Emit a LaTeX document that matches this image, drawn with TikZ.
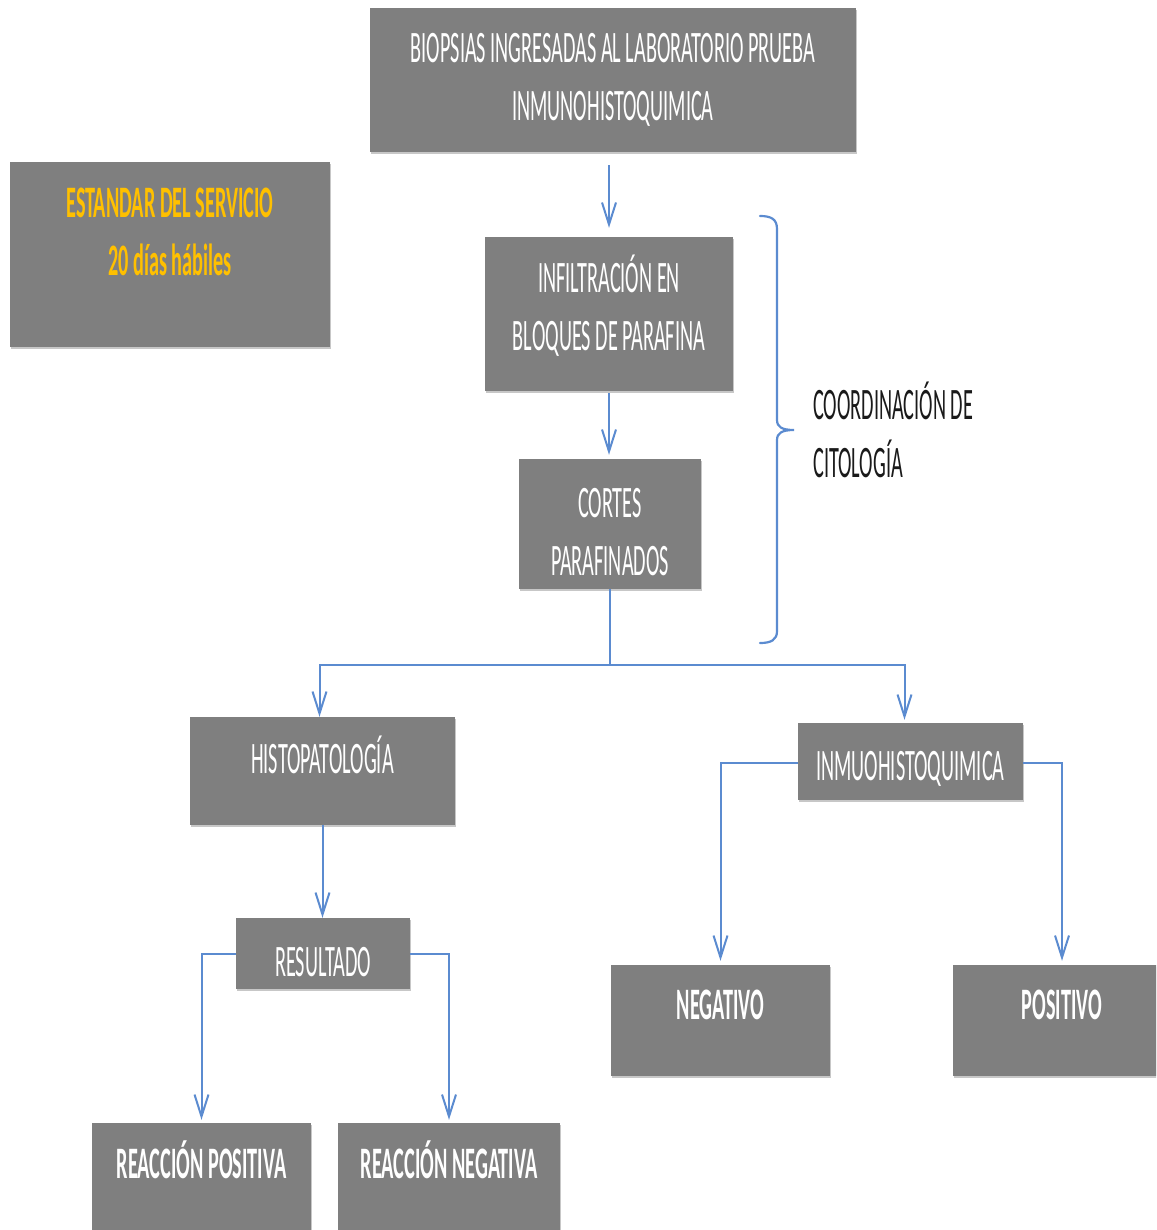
\documentclass[tikz,border=0pt]{standalone}
\usepackage{fontspec}
\setmainfont{Carlito}[FakeStretch=0.45]
\usetikzlibrary{arrows.meta,calc,shadows}
\definecolor{boxgray}{HTML}{7F7F7F}
\definecolor{linkblue}{HTML}{5B8BD0}
\definecolor{gold}{HTML}{FFC000}
\definecolor{ink}{HTML}{1A1A1A}
\begin{document}
\begin{tikzpicture}[x=1pt,y=-1pt,
  bigfont/.style={font=\fontsize{45}{58}\selectfont},
  box/.style={rectangle, fill=boxgray, draw=none, inner sep=0pt,
    text=white, align=center, bigfont,
    drop shadow={shadow xshift=1pt, shadow yshift=-2pt, fill=black!22, opacity=1}},
  lbl/.style={inner sep=0pt, text=white, align=center, bigfont},
  boldlbl/.style={lbl, font=\fontsize{45}{58}\selectfont\bfseries},
  conn/.style={draw=linkblue, line width=2pt, -{Straight Barb[length=22pt,width=14pt]}},
  link/.style={draw=linkblue, line width=2pt},
  bracestyle/.style={draw=linkblue, line width=2.2pt, line cap=round}]

\useasboundingbox (0,0) rectangle (1156,1230);
\clip (0,0) rectangle (1156,1230);

% process boxes
\node[box, minimum width=486pt, minimum height=144pt] (top) at (613,80)
  {BIOPSIAS INGRESADAS AL LABORATORIO PRUEBA\\INMUNOHISTOQUIMICA};
\node[box, minimum width=320pt, minimum height=185pt] (std) at (170,254.5) {};
\node[boldlbl, text=gold] (stdtxt)
  at ($(std.north)+(0,70)$) {ESTANDAR DEL SERVICIO\\20 días hábiles};
\node[box, minimum width=248pt, minimum height=154pt] (infil) at (609,314) {};
\node[lbl] (infiltxt) at ($(infil.center)+(0,-8)$) {INFILTRACIÓN EN\\BLOQUES DE PARAFINA};
\node[box, minimum width=182pt, minimum height=130pt] (cortes) at (610,524) {};
\node[lbl] (cortestxt) at ($(cortes.center)+(0,8)$) {CORTES\\PARAFINADOS};
\node[box, minimum width=265pt, minimum height=108pt] (histo) at (322.5,771) {};
\node[lbl, anchor=base] (histotxt) at ($(histo.north)+(0,57)$) {HISTOPATOLOGÍA};
\node[box, minimum width=225pt, minimum height=77pt] (inmuo) at (910.5,761.5) {};
\node[lbl] (inmuotxt) at ($(inmuo.center)+(0,7)$) {INMUOHISTOQUIMICA};
\node[box, minimum width=174pt, minimum height=71pt] (res) at (323,953.5) {};
\node[lbl] (restxt) at ($(res.center)+(0,9)$) {RESULTADO};
\node[box, minimum width=219pt, minimum height=111pt] (rpos) at (201.5,1178.5) {};
\node[boldlbl, anchor=base] (rpostxt)
  at ($(rpos.north)+(0,56)$) {REACCIÓN POSITIVA};
\node[box, minimum width=222pt, minimum height=111pt] (rneg) at (449,1178.5) {};
\node[boldlbl, anchor=base] (rnegtxt)
  at ($(rneg.north)+(0,56)$) {REACCIÓN NEGATIVA};
\node[box, minimum width=219pt, minimum height=111pt] (neg) at (720.5,1020.5) {};
\node[boldlbl, anchor=base] (negtxt)
  at ($(neg.north)+(0,55)$) {NEGATIVO};
\node[box, minimum width=218pt, minimum height=111pt] (pos) at (1062,1020.5) {};
\node[boldlbl, anchor=base] (postxt)
  at ($(pos.north)+(0,55)$) {POSITIVO};

% side note
\node[inner sep=0pt, anchor=west, align=left, text=ink, bigfont] (coord)
  at (813,430) {COORDINACIÓN DE\\CITOLOGÍA};

% brace grouping the paraffin steps
\draw[bracestyle] (760,216) .. controls (771,216) and (777,219) .. (777,229)
  -- (777,420) .. controls (777,427) and (782,430) .. (794,430)
  .. controls (782,430) and (777,433) .. (777,440)
  -- (777,631) .. controls (777,640) and (771,643) .. (760,643);

% connectors
\draw[conn, shorten <=13pt, shorten >=9pt] (top.south -| infil.north) -- (infil.north);
\draw[conn, shorten <=2pt, shorten >=4pt] (infil.south) -- (infil.south |- cortes.north);
\coordinate (split) at (610,665);
\draw[link] (cortes.south) -- (split);
\draw[conn] (split) -| ([xshift=-3pt]histo.north);
\draw[conn, shorten >=3pt] (split) -| ([xshift=-6pt]inmuo.north);
\draw[conn] (histo.south) -- (histo.south |- res.north);
\draw[conn, shorten >=3pt] (res.west) -| (rpos.north);
\draw[conn, shorten >=3pt] (res.east) -| (rneg.north);
\draw[conn, shorten >=4pt] ([yshift=-1.5pt]inmuo.west) -| (neg.north);
\draw[conn, shorten >=4pt] ([yshift=-1.5pt]inmuo.east) -| (pos.north);
\end{tikzpicture}
\end{document}
